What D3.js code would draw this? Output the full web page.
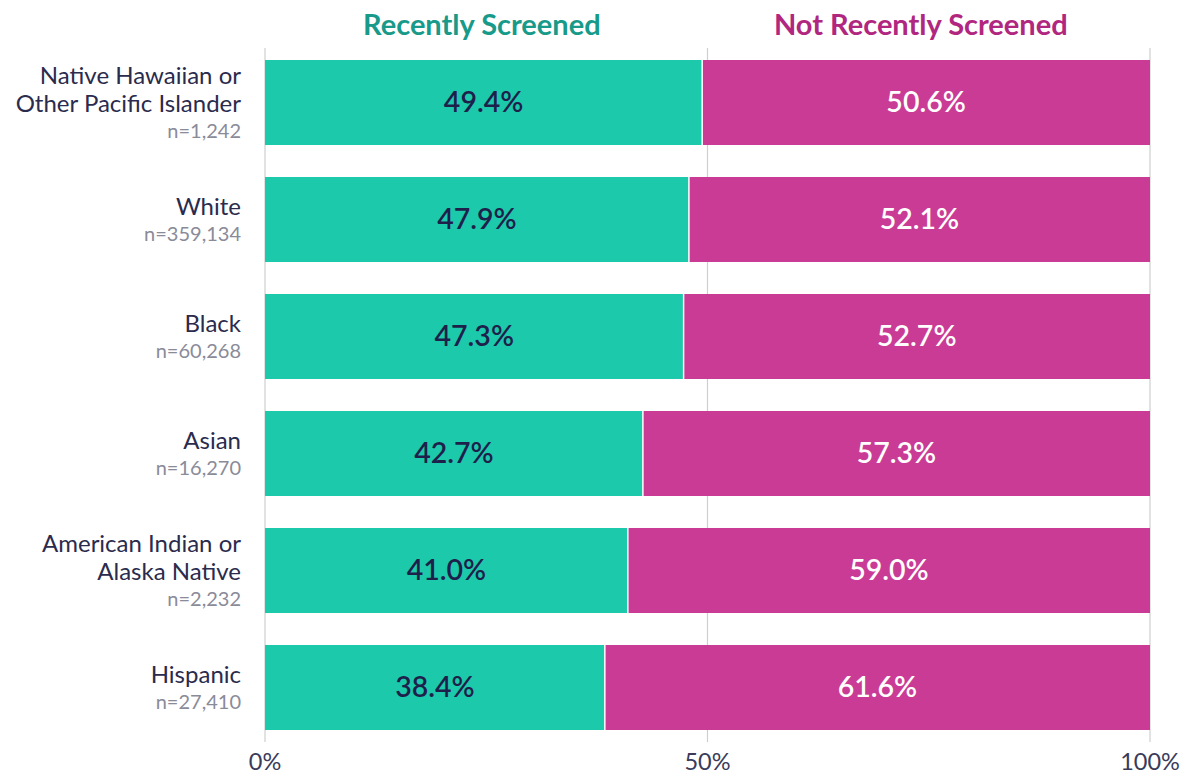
<!DOCTYPE html>
<html>
<head>
<meta charset="utf-8">
<script src="https://cdn.jsdelivr.net/npm/d3@7"></script>
<style>
  html, body { margin: 0; padding: 0; background: #fff; }
  svg { display: block; font-family: Lato, "Open Sans", sans-serif; }
</style>
</head>
<body>
<svg id="chart" width="1185" height="776"></svg>
<script>
const categories = [
  ["Native Hawaiian or", "Other Pacific Islander"],
  ["White"],
  ["Black"],
  ["Asian"],
  ["American Indian or", "Alaska Native"],
  ["Hispanic"]
];
const sampleSizes = ["n=1,242", "n=359,134", "n=60,268", "n=16,270", "n=2,232", "n=27,410"];
const recentlyScreened = [49.4, 47.9, 47.3, 42.7, 41.0, 38.4];
const notRecentlyScreened = [50.6, 52.1, 52.7, 57.3, 59.0, 61.6];
const seriesNames = ["Recently Screened", "Not Recently Screened"];
const tickValues = [0, 50, 100];

const svg = d3.select("#chart");
const x = d3.scaleLinear().domain([0, 100]).range([265, 1150]);
const y = d3.scaleBand().domain(d3.range(categories.length)).range([44, 746])
  .paddingInner(0.2735).paddingOuter(0.1368);

const teal = "#1dc9ab", magenta = "#ca3b95";

// gridlines
svg.append("g").selectAll("line").data(tickValues).join("line")
  .attr("x1", d => x(d)).attr("x2", d => x(d))
  .attr("y1", 48).attr("y2", 742)
  .attr("stroke", "#cfcfcf").attr("stroke-width", 1.2);

// bars
const rows = svg.append("g").selectAll("g").data(d3.range(categories.length)).join("g");
rows.append("rect")
  .attr("x", x(0))
  .attr("y", i => y(i))
  .attr("width", i => x(recentlyScreened[i]) - x(0))
  .attr("height", y.bandwidth())
  .attr("fill", teal);
rows.append("rect")
  .attr("x", i => x(recentlyScreened[i]))
  .attr("y", i => y(i))
  .attr("width", i => x(recentlyScreened[i] + notRecentlyScreened[i]) - x(recentlyScreened[i]))
  .attr("height", y.bandwidth())
  .attr("fill", magenta);
rows.append("line")
  .attr("x1", i => x(recentlyScreened[i])).attr("x2", i => x(recentlyScreened[i]))
  .attr("y1", i => y(i)).attr("y2", i => y(i) + y.bandwidth())
  .attr("stroke", "#fff").attr("stroke-width", 1.5);

// value labels
rows.append("text")
  .attr("x", i => x(recentlyScreened[i] / 2))
  .attr("y", i => y(i) + y.bandwidth() / 2)
  .attr("dy", "0.35em")
  .attr("text-anchor", "middle")
  .attr("font-size", 28.5).attr("font-weight", 600)
  .attr("fill", "#1e1f4b")
  .text(i => recentlyScreened[i].toFixed(1) + "%");
rows.append("text")
  .attr("x", i => x(recentlyScreened[i] + notRecentlyScreened[i] / 2))
  .attr("y", i => y(i) + y.bandwidth() / 2)
  .attr("dy", "0.35em")
  .attr("text-anchor", "middle")
  .attr("font-size", 28.5).attr("font-weight", 600)
  .attr("fill", "#ffffff")
  .text(i => notRecentlyScreened[i].toFixed(1) + "%");

// category labels
const lh = 27.5;
rows.each(function(i) {
  const g = d3.select(this);
  const lines = categories[i];
  const total = lines.length + 1;
  const cy = y(i) + y.bandwidth() / 2 + 1;
  const start = cy - (total - 1) * lh / 2;
  const t = g.append("text").attr("text-anchor", "end").attr("x", 241);
  lines.forEach((l, k) => {
    t.append("tspan").attr("x", 241).attr("y", start + k * lh).attr("dy", "0.35em")
      .attr("font-size", 24).attr("fill", "#2a2b4d").text(l);
  });
  t.append("tspan").attr("x", 241).attr("y", start + lines.length * lh).attr("dy", "0.35em")
    .attr("font-size", 20).attr("fill", "#8a8b99").text(sampleSizes[i]);
});

// axis ticks
svg.append("g").selectAll("text").data(tickValues).join("text")
  .attr("x", d => x(d)).attr("y", 770)
  .attr("text-anchor", "middle").attr("font-size", 23.5).attr("fill", "#3a3b5a")
  .text(d => d + "%");

// headers
svg.append("text").attr("x", x(24.5)).attr("y", 25).attr("dy", "0.35em")
  .attr("text-anchor", "middle").attr("font-size", 29).attr("font-weight", 700)
  .attr("fill", "#179a89").text(seriesNames[0]);
svg.append("text").attr("x", x(74.1)).attr("y", 25).attr("dy", "0.35em")
  .attr("text-anchor", "middle").attr("font-size", 29).attr("font-weight", 700)
  .attr("fill", "#b1267e").text(seriesNames[1]);
</script>
</body>
</html>
